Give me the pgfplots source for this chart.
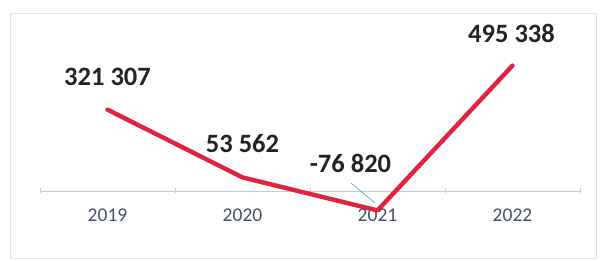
\documentclass[border=0pt]{standalone}
\usepackage{fontspec}
\setmainfont{Carlito}
\usepackage{pgfplots}
\usepackage{pgfplotstable}
\pgfplotsset{compat=1.18}
\definecolor{linered}{RGB}{226,34,62}
\definecolor{axisblue}{RGB}{185,205,222}
\definecolor{ticktext}{RGB}{70,80,98}
\definecolor{labeltext}{RGB}{35,35,35}
\definecolor{framecol}{RGB}{222,228,232}
\definecolor{leader}{RGB}{90,160,172}

\pgfplotstableread[col sep=comma]{
x,y,dx,dy,label
0,321307,0,33,321 307
1,53562,0,34,53 562
2,-76820,-27,47,-76 820
3,495338,-1,32.6,495 338
}\datatable

\begin{document}
\begin{tikzpicture}
\begin{axis}[
  scale only axis,
  width=540pt, height=241pt,
  xmin=-0.5, xmax=3.5,
  ymin=-256750, ymax=695200,
  axis x line=middle, axis y line=none,
  x axis line style={axisblue, line width=0.8pt, -},
  xtick={0,1,2,3},
  xticklabels={2019,2020,2021,2022},
  major tick length=0pt,
  minor xtick={-0.5,0.5,1.5,2.5,3.5},
  minor tick length=5pt,
  minor tick style={axisblue, line width=0.8pt},
  xticklabel style={font=\fontsize{19.5}{22}\selectfont, text=ticktext, anchor=center, yshift=-26pt},
  typeset ticklabels with strut,
  clip=false,
]
\addplot[linered, line width=4.4pt, line join=round, line cap=round,
  point meta=explicit symbolic,
  visualization depends on={\thisrow{dx} \as \dx},
  visualization depends on={\thisrow{dy} \as \dy},
  nodes near coords,
  every node near coord/.append style={anchor=center, xshift=\dx pt, yshift=\dy pt,
     font=\fontsize{26.5}{30}\bfseries\selectfont, text=labeltext, inner sep=0pt}
] table[x=x, y=y, meta=label] {\datatable};
\draw[leader, line width=0.6pt] (axis cs:1.804,31600) -- (axis cs:1.981,-47400);
\draw[framecol, line width=0.8pt] (axis cs:-0.722,703100) rectangle (axis cs:3.619,-264650);
\useasboundingbox (axis cs:-0.7963,-276500) rectangle (axis cs:3.6556,754450);
\end{axis}
\end{tikzpicture}
\end{document}
